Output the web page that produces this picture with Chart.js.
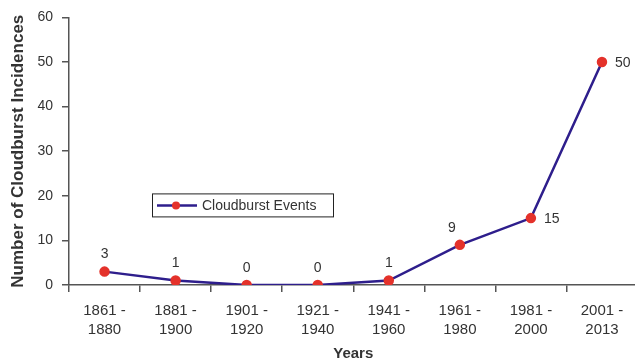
<!DOCTYPE html>
<html>
<head>
<meta charset="utf-8">
<script src="https://cdn.jsdelivr.net/npm/chart.js@4"></script>
<style>
  html, body { margin: 0; padding: 0; background: #fff; overflow: hidden; }
  #wrap { width: 644px; height: 362px; position: relative; }
</style>
</head>
<body>
<div id="wrap"><canvas id="grafico"></canvas></div>
<script>
// dados do gráfico
const periodos = [
  ['1861 -', '1880'], ['1881 -', '1900'], ['1901 -', '1920'], ['1921 -', '1940'],
  ['1941 -', '1960'], ['1961 -', '1980'], ['1981 -', '2000'], ['2001 -', '2013']
];
const eventos = [3, 1, 0, 0, 1, 9, 15, 50];
const yTicks = [0, 10, 20, 30, 40, 50, 60];

const corLinha = '#2e1e8c';
const corPonto = '#e4322b';
const corEixo = '#555555';
const corTexto = '#333333';
const fonte = 'Liberation Sans, Arial, sans-serif';

// onde fica cada rótulo de valor em relação ao ponto
const posRotulo = ['top', 'top', 'top', 'top', 'top', 'topleft', 'right', 'right'];

const rotulos = {
  id: 'rotulos',
  afterDatasetsDraw(chart) {
    const ctx = chart.ctx;
    const meta = chart.getDatasetMeta(0);
    ctx.save();
    ctx.font = '14px ' + fonte;
    ctx.fillStyle = corTexto;
    ctx.textBaseline = 'middle';
    meta.data.forEach((p, i) => {
      const v = String(chart.data.datasets[0].data[i]);
      const pos = posRotulo[i];
      if (pos === 'right') {
        ctx.textAlign = 'left';
        ctx.fillText(v, p.x + 13, p.y + 1);
      } else if (pos === 'topleft') {
        ctx.textAlign = 'center';
        ctx.fillText(v, p.x - 8, p.y - 17);
      } else {
        ctx.textAlign = 'center';
        ctx.fillText(v, p.x, p.y - 17);
      }
    });
    ctx.restore();
  }
};

const legenda = {
  id: 'legenda',
  afterDraw(chart) {
    const ctx = chart.ctx;
    const a = chart.chartArea;
    const x = a.left + 83, y = a.top + 176, w = 181, h = 23;
    ctx.save();
    ctx.fillStyle = '#fff';
    ctx.fillRect(x, y, w, h);
    ctx.strokeStyle = '#222';
    ctx.lineWidth = 1;
    ctx.strokeRect(x + 0.5, y + 0.5, w, h);
    ctx.strokeStyle = corLinha;
    ctx.lineWidth = 2.5;
    ctx.beginPath();
    ctx.moveTo(x + 5, y + 12);
    ctx.lineTo(x + 45, y + 12);
    ctx.stroke();
    ctx.fillStyle = corPonto;
    ctx.beginPath();
    ctx.arc(x + 24, y + 12, 4, 0, Math.PI * 2);
    ctx.fill();
    ctx.fillStyle = corTexto;
    ctx.font = '14px ' + fonte;
    ctx.textBaseline = 'middle';
    ctx.textAlign = 'left';
    ctx.fillText('Cloudburst Events', x + 50, y + 12.5);
    ctx.restore();
  }
};

new Chart(document.getElementById('grafico'), {
  type: 'line',
  data: {
    labels: periodos,
    datasets: [{
      label: 'Cloudburst Events',
      data: eventos,
      borderColor: corLinha,
      borderWidth: 2.5,
      pointBackgroundColor: corPonto,
      pointBorderColor: corPonto,
      pointRadius: 4,
      tension: 0
    }]
  },
  options: {
    responsive: true,
    maintainAspectRatio: false,
    animation: false,
    layout: { padding: { top: 16, right: 0, left: 0, bottom: 0 } },
    plugins: { legend: { display: false }, tooltip: { enabled: false } },
    scales: {
      x: {
        offset: true,
        afterFit(s) { s.height = 77; },
        grid: { offset: true, drawOnChartArea: false, drawTicks: true, tickLength: 7, color: corEixo, lineWidth: 1.5 },
        border: { color: corEixo, width: 1.5 },
        ticks: { color: corTexto, font: { family: fonte, size: 15, lineHeight: 1.3 }, padding: 9, maxRotation: 0, autoSkip: false },
        title: { display: true, text: 'Years', color: corTexto, font: { family: fonte, size: 15, weight: 'bold' }, padding: { top: 4, bottom: -1 } }
      },
      y: {
        min: 0,
        max: 60,
        afterFit(s) { s.width = 69; },
        afterBuildTicks(s) { s.ticks = yTicks.map(v => ({ value: v })); },
        grid: { drawOnChartArea: false, drawTicks: true, tickLength: 7, color: corEixo, lineWidth: 1.5 },
        border: { color: corEixo, width: 1.5 },
        ticks: { color: corTexto, font: { family: fonte, size: 14 }, padding: 9 },
        title: { display: true, text: 'Number of Cloudburst Incidences', color: corTexto, font: { family: fonte, size: 17, weight: 'bold' }, padding: { top: 8, bottom: 4 } }
      }
    }
  },
  plugins: [rotulos, legenda]
});
</script>
</body>
</html>
